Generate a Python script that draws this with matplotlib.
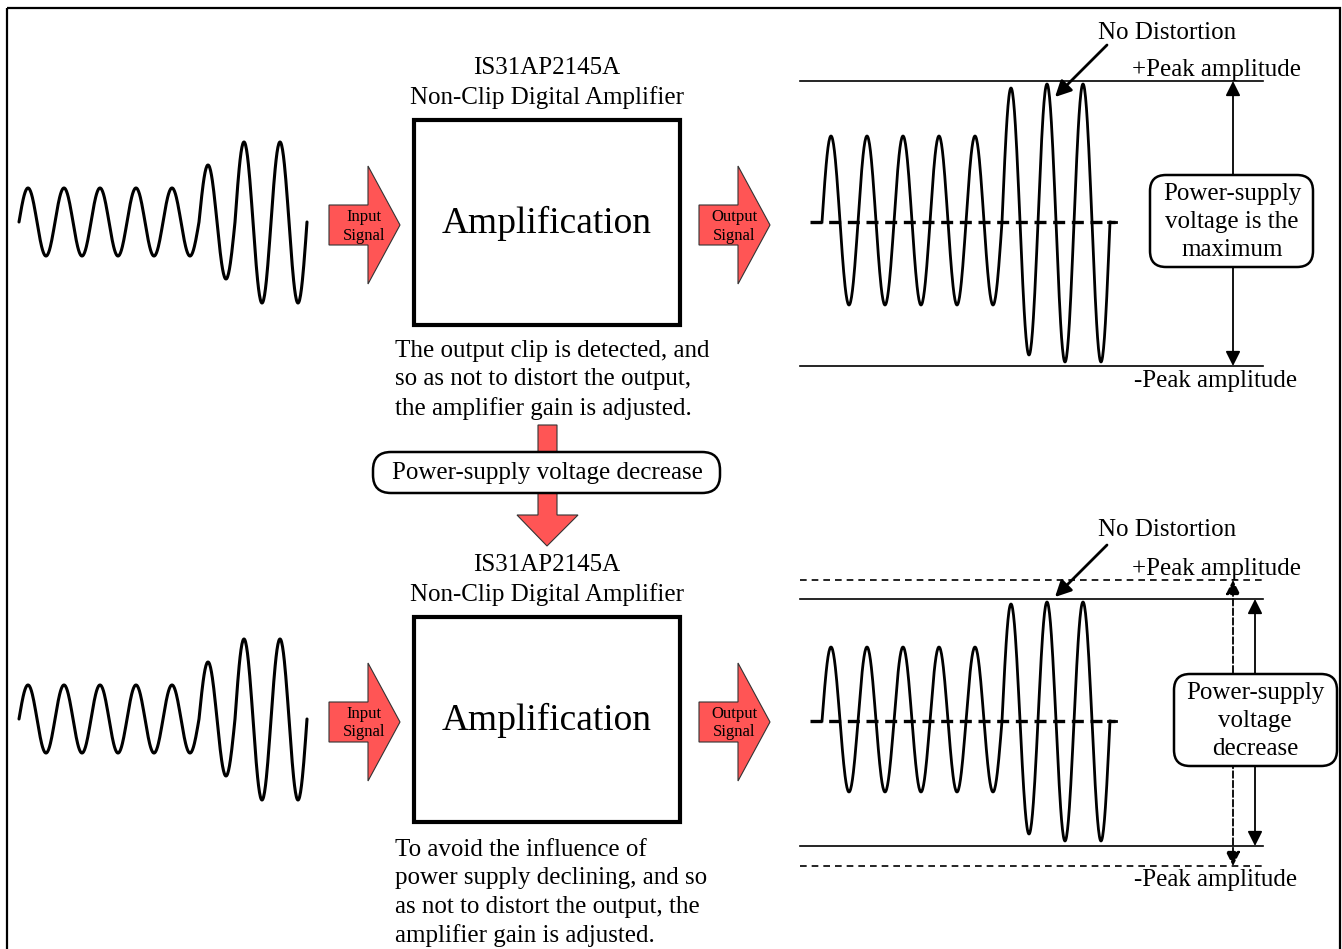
import numpy as np
import matplotlib
matplotlib.use('Agg')
import matplotlib.pyplot as plt
from matplotlib.patches import Polygon, FancyBboxPatch, Rectangle

# half-cycle amplitudes (pixels)
in_amps = [34, 34, 34, 34, 34, 34, 34, 34, 34, 34, 57, 57, 80, 81, 80, 81]
out_amps_max = [86, 83, 86, 83, 86, 83, 86, 83, 86, 83, 134, 133, 138, 140, 138, 140]
out_amps_dec = [74, 71, 74, 71, 74, 71, 74, 71, 74, 71, 117, 113, 119, 120, 119, 120]

chip = 'IS31AP2145A'
chip_sub = 'Non-Clip Digital Amplifier'
note_top = 'The output clip is detected, and\nso as not to distort the output,\nthe amplifier gain is adjusted.'
note_bot = ('To avoid the influence of\npower supply declining, and so\n'
            'as not to distort the output, the\namplifier gain is adjusted.')
box_top = 'Power-supply\nvoltage is the\nmaximum'
box_bot = 'Power-supply\nvoltage\ndecrease'
mid_label = 'Power-supply voltage decrease'

SERIF = 'Liberation Serif'
RED = '#ff5555'
LS = 1.38

fig = plt.figure(figsize=(13.42, 9.49), dpi=100)
ax = fig.add_axes([0, 0, 1, 1])
ax.set_xlim(0, 1342)
ax.set_ylim(949, 0)
ax.axis('off')


def wave(x0, yc, amps, half=18):
    xs, ys = [], []
    t = np.linspace(0, 1, 40)
    for i, a in enumerate(amps):
        s = 1 if i % 2 == 0 else -1
        xs.extend(x0 + (i + t) * half)
        ys.extend(yc - s * a * np.sin(np.pi * t))
    return xs, ys


def label(x, y, s, size=18, **kw):
    ax.text(x, y + 2, s, ha=kw.pop('ha', 'center'), va='center', fontsize=size,
            family=SERIF, linespacing=kw.pop('linespacing', LS), **kw)


def red_arrow_right(x0, yc, txt):
    pts = [(x0, yc - 20), (x0 + 39, yc - 20), (x0 + 39, yc - 59), (x0 + 71, yc),
           (x0 + 39, yc + 59), (x0 + 39, yc + 20), (x0, yc + 20)]
    ax.add_patch(Polygon(pts, closed=True, fc=RED, ec='#333333', lw=0.8, zorder=2))
    label(x0 + 35, yc - 1, txt, size=12, linespacing=1.25, zorder=3)


def panel(dy, out_c, out_amps, note, note_y):
    # input wave
    xs, ys = wave(19, 222 + dy, in_amps)
    ax.plot(xs, ys, color='k', lw=2.2, solid_capstyle='round')
    red_arrow_right(329, 225 + dy, 'Input\nSignal')
    red_arrow_right(699, 225 + dy, 'Output\nSignal')
    # amplifier block
    label(547, 66 + dy, chip)
    label(547, 96 + dy, chip_sub)
    ax.add_patch(Rectangle((414, 120 + dy), 266, 205, fill=False, ec='k', lw=3))
    label(547, 221 + dy, 'Amplification', size=27)
    label(395, note_y, note, ha='left')
    # output wave
    ax.plot([810, 1115], [out_c, out_c], color='k', lw=2.4, ls=(0, (3.6, 2.0)))
    xs, ys = wave(822, out_c, out_amps)
    ax.plot(xs, ys, color='k', lw=2.0)
    ax.plot([1108, 1116], [out_c, out_c], color='k', lw=2.0)
    label(1167, 31 + dy, 'No Distortion')


def vert_arrow(x, y0, y1, ls='-'):
    ax.annotate('', xy=(x, y0), xytext=(x, y1),
                arrowprops=dict(arrowstyle='<|-|>', lw=1.3, color='k', mutation_scale=22,
                                shrinkA=0, shrinkB=0, linestyle=ls))


def pointer(tip, tail):
    ax.annotate('', xy=tip, xytext=tail,
                arrowprops=dict(arrowstyle='-|>', lw=2, color='k', mutation_scale=24,
                                shrinkA=0, shrinkB=0))


# outer frame
ax.add_patch(Rectangle((7, 8), 1333, 960, fill=False, ec='k', lw=1.6))

# ---- top panel
panel(0, 222, out_amps_max, note_top, 378)
ax.plot([800, 1263], [81, 81], color='k', lw=1.2)
ax.plot([800, 1263], [366, 366], color='k', lw=1.2)
label(1216, 68, '+Peak amplitude')
label(1216, 379, '-Peak amplitude')
pointer((1055, 97), (1107, 45))
vert_arrow(1233, 81, 366)
ax.add_patch(FancyBboxPatch((1150, 175), 163, 92, boxstyle='round,pad=0,rounding_size=16',
                            fc='white', ec='k', lw=1.8, zorder=4))
label(1232, 220, box_top, zorder=5)

# ---- middle transition
ax.add_patch(Polygon([(538, 425), (557, 425), (557, 515), (578, 515), (547, 546),
                      (517, 515), (538, 515)], closed=True, fc=RED, ec='#333333', lw=0.8))
ax.add_patch(FancyBboxPatch((373, 452), 347, 41, boxstyle='round,pad=0,rounding_size=18',
                            fc='white', ec='k', lw=1.8, zorder=4))
label(547, 471, mid_label, zorder=5)

# ---- bottom panel
panel(497, 721, out_amps_dec, note_bot, 891)
ax.plot([800, 1263], [580, 580], color='k', lw=1.2, ls=(0, (4, 3)))
ax.plot([800, 1263], [866, 866], color='k', lw=1.2, ls=(0, (4, 3)))
ax.plot([800, 1263], [599, 599], color='k', lw=1.2)
ax.plot([800, 1263], [846, 846], color='k', lw=1.2)
label(1216, 567, '+Peak amplitude')
label(1216, 878, '-Peak amplitude')
pointer((1055, 597), (1107, 545))
vert_arrow(1233, 580, 866, ls='--')
vert_arrow(1255, 599, 846)
ax.add_patch(FancyBboxPatch((1174, 674), 163, 92, boxstyle='round,pad=0,rounding_size=16',
                            fc='white', ec='k', lw=1.8, zorder=4))
label(1255, 719, box_bot, zorder=5)

fig.savefig('out.png', dpi=100)
